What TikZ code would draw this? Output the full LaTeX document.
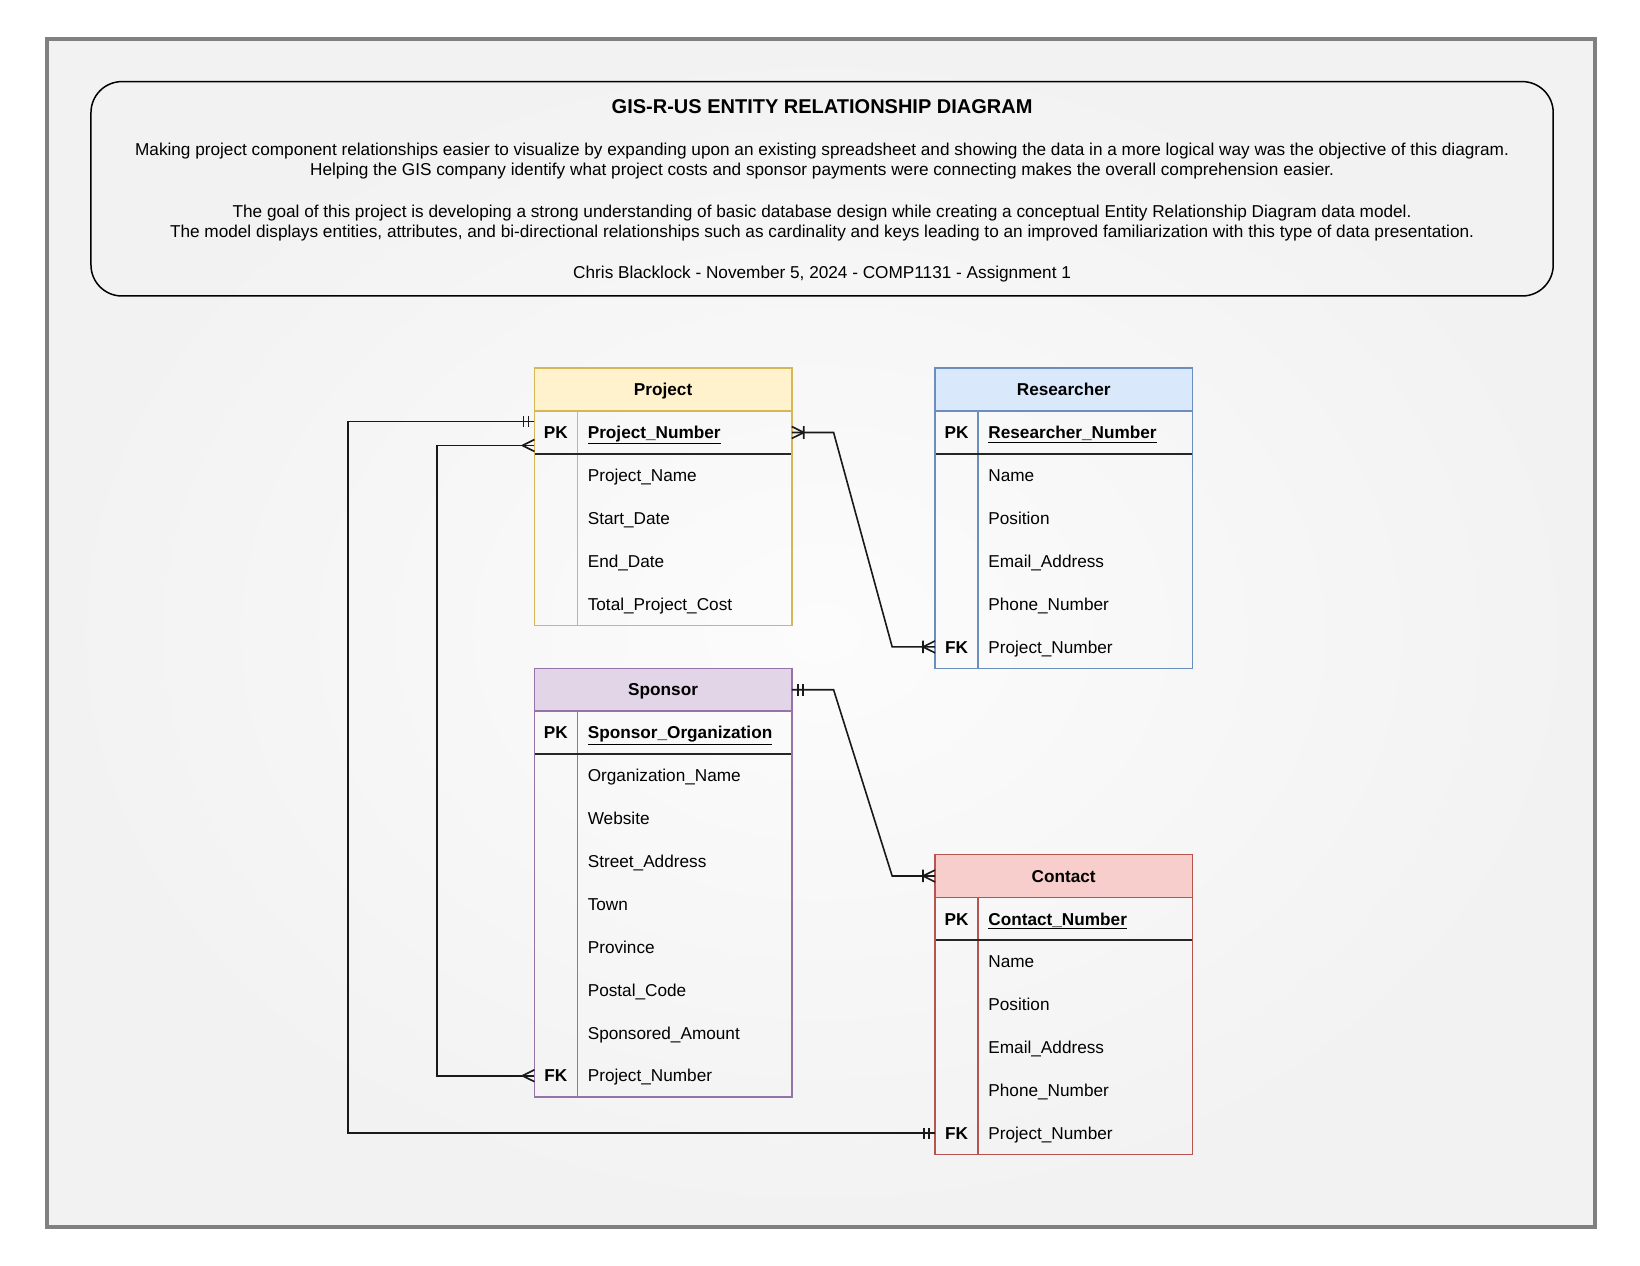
\documentclass[tikz,border=0pt]{standalone}
\usepackage{fontspec}
\setmainfont{Liberation Sans}
\definecolor{pjfill}{HTML}{FFF2CC}\definecolor{pjdraw}{HTML}{D6B656}
\definecolor{rsfill}{HTML}{DAE8FC}\definecolor{rsdraw}{HTML}{6C8EBF}
\definecolor{spfill}{HTML}{E1D5E7}\definecolor{spdraw}{HTML}{9673A6}
\definecolor{ctfill}{HTML}{F8CECC}\definecolor{ctdraw}{HTML}{B85450}
\definecolor{bgout}{HTML}{F2F2F2}\definecolor{bgin}{HTML}{FCFCFC}
\definecolor{framegray}{HTML}{808080}
\newcommand{\ertable}[7]{%
  \node[rowbox, anchor=north west, fill=#5] (#1-h) at (#2,#3) {};
  \foreach \i in {0,...,#4}{\node[rowbox, anchor=north west] (#1-r\i) at (#2,{#3+41+41*\i}) {};}
  \draw[tabline, draw=#6] (#1-h.south west) -- (#1-h.south east);
  \draw[tabline, draw=#6] ([xshift=42.88pt]#1-r0.north west) -- ([xshift=42.88pt]#1-r#4.south west);
  \draw[pkline] (#1-r0.south west) -- (#1-r0.south east);
  \draw[tabline, draw=#6] (#1-h.north west) rectangle (#1-r#4.south east);
  \node[hdrtext] (#1-title) at (#1-h) {#7};
}
\newcommand{\erkey}[3]{\node[keytext] (#1-k) at ([xshift=21.44pt]#2.west) {#3};}
\newcommand{\erfld}[3]{\node[fldtext] (#1-t) at ([xshift=53.34pt]#2.west) {#3};}
\begin{document}
\begin{tikzpicture}[x=1.0459pt,y=-1.0459pt,
  every node/.style={inner sep=0pt, outer sep=0pt},
  rowbox/.style={minimum width=257.29pt, minimum height=42.88pt},
  tabline/.style={line width=1.5pt},
  pkline/.style={line width=1.7pt, draw=black!85},
  hdrtext/.style={font=\fontsize{17.2}{20}\selectfont\bfseries, text height=12.3pt, text depth=0pt},
  keytext/.style={font=\fontsize{17.2}{20}\selectfont\bfseries, text height=12.3pt, text depth=0pt},
  fldtext/.style={anchor=west, font=\fontsize{17.2}{20}\selectfont, text height=12.3pt, text depth=0pt},
  para/.style={font=\fontsize{17.2}{20}\selectfont, text height=12.3pt, text depth=0pt},
  titletext/.style={font=\fontsize{20}{24}\selectfont\bfseries, text height=14.3pt, text depth=0pt},
  conn/.style={line width=1.6pt, draw=black!90},
  mandone/.pic={\draw[conn] (-5.7,-5.5) -- (-5.7,5.5) (-10.5,-5.5) -- (-10.5,5.5);},
  mandoneE/.pic={\draw[conn] (5.7,-5.5) -- (5.7,5.5) (10.5,-5.5) -- (10.5,5.5);},
  crow/.pic={\draw[conn] (0,-5.7) -- (-11.5,0) -- (0,5.7);},
  onemany/.pic={\draw[conn] (0,-5.7) -- (-11.5,0) -- (0,5.7) (-11.5,-6) -- (-11.5,6);},
  onemanyE/.pic={\draw[conn] (0,-5.7) -- (11.5,0) -- (0,5.7) (11.5,-6) -- (11.5,6);}
]
\useasboundingbox (0,0) rectangle (1568,1209.5);
% background frame
\shade[inner color=bgin, outer color=bgout] (45,37) rectangle (1525,1173);
\draw[framegray, line width=4pt] (45,37) rectangle (1525,1173);
% description box
\node[draw=black, line width=1.5pt, rounded corners=31pt, minimum width=1462.2pt, minimum height=214.4pt] (desc) at (786,180.5) {};
\node[titletext] (title) at (786,102) {GIS-R-US ENTITY RELATIONSHIP DIAGRAM};
\node[para] (l1) at (786,143) {Making project component relationships easier to visualize by expanding upon an existing spreadsheet and showing the data in a more logical way was the objective of this diagram.};
\node[para] (l2) at (786,162) {Helping the GIS company identify what project costs and sponsor payments were connecting makes the overall comprehension easier.};
\node[para] (l3) at (786,202) {The goal of this project is developing a strong understanding of basic database design while creating a conceptual Entity Relationship Diagram data model.};
\node[para] (l4) at (786,221) {The model displays entities, attributes, and bi-directional relationships such as cardinality and keys leading to an improved familiarization with this type of data presentation.};
\node[para] (l5) at (786,260) {Chris Blacklock - November 5, 2024 - COMP1131 - Assignment 1};
% tables
\ertable{P}{511}{352}{4}{pjfill}{pjdraw}{Project}
\ertable{R}{894}{352}{5}{rsfill}{rsdraw}{Researcher}
\ertable{S}{511}{639}{8}{spfill}{spdraw}{Sponsor}
\ertable{C}{894}{817}{5}{ctfill}{ctdraw}{Contact}
% Project fields
\erkey{Pk0}{P-r0}{PK}
\erfld{Pf0}{P-r0}{\underline{\textbf{Project\_Number}}}
\erfld{Pf1}{P-r1}{Project\_Name}
\erfld{Pf2}{P-r2}{Start\_Date}
\erfld{Pf3}{P-r3}{End\_Date}
\erfld{Pf4}{P-r4}{Total\_Project\_Cost}
% Researcher fields
\erkey{Rk0}{R-r0}{PK}
\erfld{Rf0}{R-r0}{\underline{\textbf{Researcher\_Number}}}
\erfld{Rf1}{R-r1}{Name}
\erfld{Rf2}{R-r2}{Position}
\erfld{Rf3}{R-r3}{Email\_Address}
\erfld{Rf4}{R-r4}{Phone\_Number}
\erkey{Rk5}{R-r5}{FK}
\erfld{Rf5}{R-r5}{Project\_Number}
% Sponsor fields
\erkey{Sk0}{S-r0}{PK}
\erfld{Sf0}{S-r0}{\underline{\textbf{Sponsor\_Organization}}}
\erfld{Sf1}{S-r1}{Organization\_Name}
\erfld{Sf2}{S-r2}{Website}
\erfld{Sf3}{S-r3}{Street\_Address}
\erfld{Sf4}{S-r4}{Town}
\erfld{Sf5}{S-r5}{Province}
\erfld{Sf6}{S-r6}{Postal\_Code}
\erfld{Sf7}{S-r7}{Sponsored\_Amount}
\erkey{Sk8}{S-r8}{FK}
\erfld{Sf8}{S-r8}{Project\_Number}
% Contact fields
\erkey{Ck0}{C-r0}{PK}
\erfld{Cf0}{C-r0}{\underline{\textbf{Contact\_Number}}}
\erfld{Cf1}{C-r1}{Name}
\erfld{Cf2}{C-r2}{Position}
\erfld{Cf3}{C-r3}{Email\_Address}
\erfld{Cf4}{C-r4}{Phone\_Number}
\erkey{Ck5}{C-r5}{FK}
\erfld{Cf5}{C-r5}{Project\_Number}
% connectors
\coordinate (busA) at (333,0);
\coordinate (busB) at (418,0);
\coordinate (pA) at ([yshift=11pt]P-r0.west);
\coordinate (pB) at ([yshift=-13pt]P-r0.west);
\draw[conn] (pA) -- (pA -| busA) |- (C-r5.west);
\draw[conn] (pB) -- (pB -| busB) |- (S-r8.west);
\draw[conn] (P-r0.east) -- ++(40,0) -- ([xshift=-42.88pt]R-r5.west) -- (R-r5.west);
\draw[conn] (S-h.east) -- ++(40,0) -- ([xshift=-42.88pt]C-h.west) -- (C-h.west);
\pic at (pA) {mandone};
\pic at (C-r5.west) {mandone};
\pic at (pB) {crow};
\pic at (S-r8.west) {crow};
\pic at (P-r0.east) {onemanyE};
\pic at (R-r5.west) {onemany};
\pic at (S-h.east) {mandoneE};
\pic at (C-h.west) {onemany};
\end{tikzpicture}
\end{document}
